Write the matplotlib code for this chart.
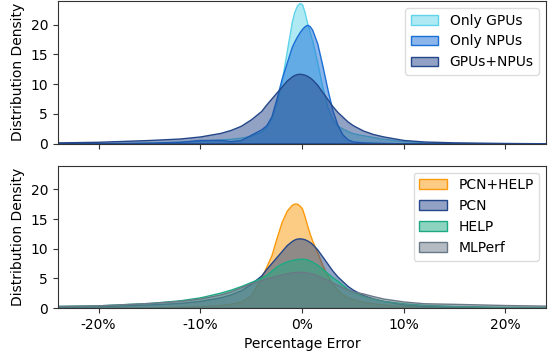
import matplotlib
matplotlib.use("Agg")
import matplotlib.pyplot as plt
from matplotlib.colors import to_rgba

# percentage error grid (%)
err = [-24, -20, -15, -12, -10, -8, -7, -6, -5, -4, -3.5, -3, -2.5, -2, -1.5, -1, -0.75, -0.5, -0.25,
       0, 0.25, 0.5, 0.75, 1, 1.5, 2, 2.5, 3, 3.5, 4, 4.5, 5, 6, 7, 8, 10, 12, 15, 20, 24]

# top panel densities
only_gpus = [0.02, 0.05, 0.15, 0.3, 0.5, 0.7, 0.8, 1.0, 1.3, 2.0, 2.8, 4.2, 6.8, 10.5, 15.5, 20.5, 22.2, 23.2, 23.65,
             23.5, 22.2, 20.4, 18.9, 17.4, 13.7, 9.6, 6.2, 4.1, 3.0, 2.5, 2.1, 1.75, 1.4, 1.1, 0.8, 0.4, 0.2, 0.1, 0.03, 0.01]
only_npus = [0.02, 0.05, 0.15, 0.3, 0.6, 0.6, 0.4, 0.6, 1.5, 2.4, 3.1, 4.6, 7.6, 10.9, 13.6, 16.3, 17.2, 18.0, 18.7,
             19.3, 19.75, 20.0, 19.8, 19.2, 16.9, 13.2, 9.2, 5.6, 3.1, 1.5, 0.7, 0.35, 0.2, 0.15, 0.1, 0.05, 0.02, 0.02, 0.01, 0.01]
gpus_npus = [0.2, 0.3, 0.6, 0.85, 1.2, 1.8, 2.3, 3.0, 4.1, 5.5, 6.6, 7.6, 8.6, 9.6, 10.6, 11.3, 11.55, 11.7, 11.75,
             11.7, 11.6, 11.4, 11.15, 10.8, 9.9, 8.7, 7.5, 6.3, 5.3, 4.5, 3.7, 3.1, 2.2, 1.6, 1.2, 0.6, 0.35, 0.2, 0.1, 0.05]

# bottom panel densities
pcn_help = [0.02, 0.05, 0.1, 0.2, 0.3, 0.5, 0.7, 1.1, 2.2, 5.2, 7.0, 8.9, 11.8, 14.5, 16.4, 17.4, 17.6, 17.6, 17.3,
            16.8, 15.5, 14.0, 12.6, 11.4, 9.4, 7.3, 5.5, 4.1, 3.0, 2.3, 1.8, 1.5, 1.06, 0.8, 0.6, 0.3, 0.2, 0.1, 0.05, 0.02]
pcn = gpus_npus
help_ = [0.35, 0.45, 0.85, 1.3, 1.8, 2.6, 3.1, 3.7, 4.4, 5.1, 5.6, 6.3, 7.0, 7.5, 7.85, 8.1, 8.2, 8.25, 8.3,
         8.3, 8.27, 8.2, 8.0, 7.8, 7.3, 6.6, 5.9, 5.2, 4.6, 3.9, 3.2, 2.7, 2.0, 1.55, 1.2, 0.8, 0.55, 0.35, 0.2, 0.15]
mlperf = [0.35, 0.45, 0.85, 1.2, 1.6, 2.3, 2.8, 3.5, 4.2, 4.7, 5.0, 5.2, 5.45, 5.65, 5.85, 6.0, 6.05, 6.1, 6.1,
          6.1, 6.07, 6.0, 5.9, 5.8, 5.5, 5.1, 4.75, 4.3, 3.9, 3.5, 3.1, 2.8, 2.45, 2.0, 1.6, 1.1, 0.8, 0.7, 0.5, 0.4]

top_series = [("Only GPUs", only_gpus, "#5fd4ea"),
              ("Only NPUs", only_npus, "#1a6fd6"),
              ("GPUs+NPUs", gpus_npus, "#24478a")]
bottom_series = [("PCN+HELP", pcn_help, "#fb9a0c"),
                 ("PCN", pcn, "#24478a"),
                 ("HELP", help_, "#1baa82"),
                 ("MLPerf", mlperf, "#6a7987")]

xticks = [-20, -10, 0, 10, 20]
xticklabels = ["-20%", "-10%", "0%", "10%", "20%"]

fig = plt.figure(figsize=(5.51, 3.51), dpi=100)
ax1 = fig.add_axes([0.105, 0.591, 0.886, 0.406])
ax2 = fig.add_axes([0.105, 0.1225, 0.886, 0.4055])

for ax, series in [(ax1, top_series), (ax2, bottom_series)]:
    for name, dens, c in series:
        ax.fill_between(err, dens, 0, facecolor=to_rgba(c, 0.5), edgecolor=c,
                        linewidth=1.0, label=name)
    ax.set_xlim(-24, 24)
    ax.set_ylim(0, 24)
    ax.set_yticks([0, 5, 10, 15, 20])
    ax.set_xticks(xticks)
    ax.set_ylabel("Distribution Density", fontsize=10)
    ax.tick_params(labelsize=10, color="#333333")
    for s in ax.spines.values():
        s.set_edgecolor("#333333")
    ax.legend(loc="upper right", fontsize=10, framealpha=1, edgecolor="#dddddd")

ax1.set_xticklabels([])
ax2.set_xticklabels(xticklabels)
ax2.set_xlabel("Percentage Error", fontsize=10)

fig.savefig("out.png", dpi=100)
